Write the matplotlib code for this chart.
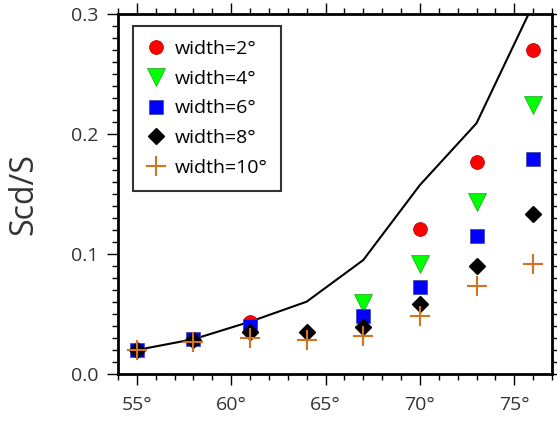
import numpy as np
import matplotlib.pyplot as plt
from matplotlib.ticker import MultipleLocator

plt.rcParams['font.family'] = ['Open Sans', 'DejaVu Sans']

# incidence angle (deg) for each beam width
ang_w2 = [55, 58, 61, 70, 73, 76]
scd_w2 = [0.020, 0.029, 0.043, 0.1205, 0.177, 0.270]
ang_w4 = [67, 70, 73, 76]
scd_w4 = [0.059, 0.092, 0.1435, 0.224]
ang_w6 = [55, 58, 61, 67, 70, 73, 76]
scd_w6 = [0.020, 0.029, 0.040, 0.048, 0.0728, 0.115, 0.179]
ang_w8 = [55, 58, 61, 64, 67, 70, 73, 76]
scd_w8 = [0.020, 0.028, 0.035, 0.035, 0.039, 0.058, 0.090, 0.133]
ang_w10 = [55, 58, 61, 64, 67, 70, 73, 76]
scd_w10 = [0.020, 0.027, 0.030, 0.028, 0.032, 0.048, 0.073, 0.092]

# reference curve
ang_ref = [55, 58, 61, 64, 67, 70, 73, 76]
scd_ref = [0.020, 0.029, 0.0436, 0.0603, 0.095, 0.1575, 0.209, 0.308]

xticks = [55, 60, 65, 70, 75]
yticks = [0.0, 0.1, 0.2, 0.3]

fig = plt.figure(figsize=(5.57, 4.21), dpi=100)
ax = fig.add_axes([0.2118, 0.1116, 0.7792, 0.855])

ax.plot(ang_ref, scd_ref, color='black', lw=1.5, zorder=2)
ax.plot(ang_w2, scd_w2, 'o', ms=10, color='#ff0000', mec='#b00000', mew=0.5,
        label='width=2°', zorder=3)
ax.plot(ang_w4, scd_w4, 'v', ms=13, color='#00ff00', mec='#20a020', mew=0.5,
        label='width=4°', zorder=4)
ax.plot(ang_w6, scd_w6, 's', ms=10.5, color='#0000ff', mec='#4040a0', mew=0.5,
        label='width=6°', zorder=5)
ax.plot(ang_w8, scd_w8, 'D', ms=8, color='black', label='width=8°', zorder=6)
ax.plot(ang_w10, scd_w10, '+', ms=15, mew=1.5, color='#d4731f',
        label='width=10°', zorder=7)

ax.set_xlim(54, 77)
ax.set_ylim(0, 0.3)
ax.set_xticks(xticks)
ax.set_xticklabels([f'{t}°' for t in xticks])
ax.set_yticks(yticks)
ax.set_yticklabels([f'{t:.1f}' for t in yticks])
ax.xaxis.set_minor_locator(MultipleLocator(1))
ax.yaxis.set_minor_locator(MultipleLocator(0.01))
ax.tick_params(which='both', direction='out', top=True, right=True,
               labelsize=14, labelcolor='#333333', width=1)
ax.tick_params(which='major', length=8)
ax.tick_params(which='minor', length=4)
ax.tick_params(axis='x', which='major', pad=8)
ax.tick_params(axis='y', which='major', pad=6)
for s in ax.spines.values():
    s.set_linewidth(2)

ax.set_ylabel('Scd/S', fontsize=23, color='#333333', labelpad=22)

leg = ax.legend(loc='upper left', bbox_to_anchor=(0.0346, 0.9667), fontsize=14,
                frameon=True, fancybox=False, edgecolor='black',
                handletextpad=0.45, borderpad=0.7, labelspacing=0.61,
                handlelength=1.0, borderaxespad=0)
leg.get_frame().set_linewidth(1.5)

fig.savefig('out.png', dpi=100)
